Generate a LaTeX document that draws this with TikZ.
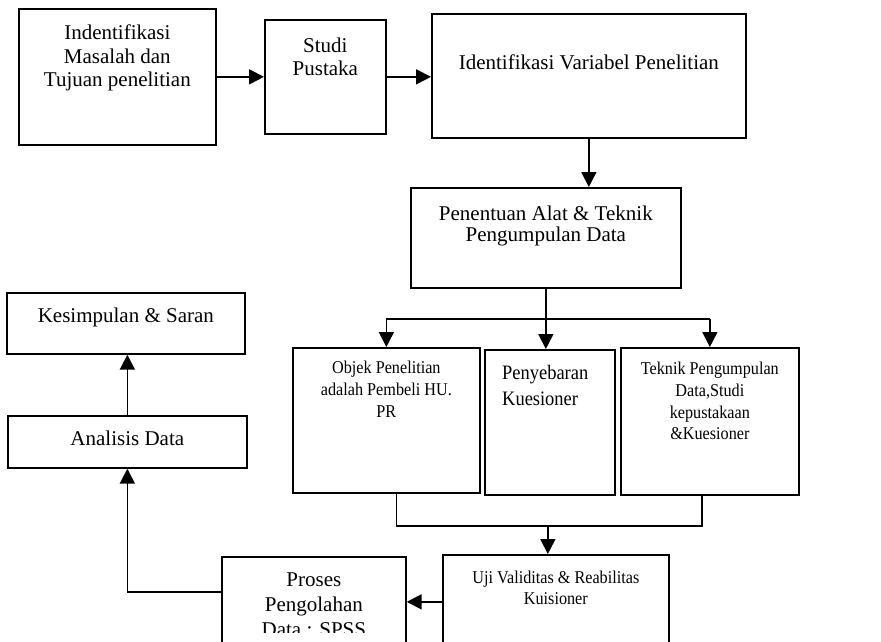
\documentclass[tikz,border=0pt]{standalone}
\usepackage{fontspec}
\setmainfont{Liberation Serif}
\newfontfamily\narrowserif[FakeStretch=0.9]{Liberation Serif}
\usetikzlibrary{arrows.meta}

\begin{document}
\begin{tikzpicture}[x=1pt,y=-1pt,
    box/.style={draw,line width=1.7pt,inner sep=0pt,anchor=north west},
    txt/.style={anchor=north,align=center,inner sep=0pt,font=\fontsize{21}{23.5}\selectfont},
    small/.style={font=\narrowserif\fontsize{18}{21.7}\selectfont},
    line/.style={line width=1.7pt},
    arr/.style={-{Triangle[length=15pt,width=15pt]},line width=1.7pt}]
    \useasboundingbox (0,0) rectangle (881,642);

    \node [box,minimum width=197pt,minimum height=136pt](A) at (18,8){};
    \node [box,minimum width=121pt,minimum height=114pt](B) at (264,19){};
    \node [box,minimum width=314pt,minimum height=124pt](C) at (431,13){};
    \node [box,minimum width=270pt,minimum height=100pt](D) at (410,187){};
    \node [box,minimum width=187pt,minimum height=145pt](E) at (292,347){};
    \node [box,minimum width=130pt,minimum height=145pt](F) at (484,349){};
    \node [box,minimum width=178pt,minimum height=147pt](G) at (620,347){};
    \node [box,minimum width=226pt,minimum height=94pt](H) at (442,554){};
    \node [box,minimum width=184pt,minimum height=92pt](I) at (221,556){};
    \node [box,minimum width=239pt,minimum height=52pt](J) at (7,415){};
    \node [box,minimum width=238pt,minimum height=61pt](K) at (6,292){};

    \node [txt](At) at ([yshift=-17pt]A.north){Indentifikasi\\Masalah dan\\Tujuan penelitian};
    \node [txt](Bt) at ([yshift=-18.5pt]B.north){Studi\\Pustaka};
    \node [txt](Ct) at ([yshift=-41.5pt]C.north){Identifikasi Variabel Penelitian};
    \node [txt,font=\fontsize{21}{21}\selectfont](Dt) at ([yshift=-18.5pt]D.north){Penentuan Alat \& Teknik\\Pengumpulan Data};
    \node [txt,small](Et) at ([yshift=-14pt]E.north){Objek Penelitian\\adalah Pembeli HU.\\PR};
    \node [txt,anchor=north west,align=left,font=\narrowserif\fontsize{20.5}{26}\selectfont](Ft) at ([xshift=18pt,yshift=-16pt]F.north west){Penyebaran\\Kuesioner};
    \node [txt,small](Gt) at ([yshift=-15pt]G.north){Teknik Pengumpulan\\Data,Studi\\kepustakaan\\\&Kuesioner};
    \node [txt,small,font=\narrowserif\fontsize{18}{21}\selectfont](Ht) at ([yshift=-17pt]H.north){Uji Validitas \& Reabilitas\\Kuisioner};
    \begin{scope}
    \clip (221,556) rectangle (405,632);
    \node [txt,font=\fontsize{21}{25}\selectfont](It) at ([yshift=-16.5pt]I.north){Proses\\Pengolahan\\Data : SPSS};
    \end{scope}
    \node [txt](Jt) at ([yshift=-15.5pt]J.north){Analisis Data};
    \node [txt](Kt) at ([yshift=-15.5pt]K.north){Kesimpulan \& Saran};

    \draw[arr] (A.east) -- (B.west);
    \draw[arr] (B.east) -- (B.east -| C.west);
    \draw[arr] (C.south) -- (C.south |- D.north);

    % split to the three boxes
    \draw[line] (D.south) -- ++(0,30) coordinate (s);
    \draw[line] (E.north |- s) -- (G.north |- s);
\foreach \n in {E,G}
    \draw[arr] (\n.north |- s) -- (\n.north);
    \draw[arr] (s) -- (s |- F.north);

    % merge
    \draw[line] ([xshift=10pt]E.south) -- ++(0,32) coordinate (m) -| ([xshift=-8pt]G.south);
    \draw[arr] ([xshift=-8pt]H.north |- m) -- ([xshift=-8pt]H.north);

    \draw[arr] (H.west) -- (H.west -| I.east);
    \draw[arr] ([yshift=11pt]I.west) -| (J.south);
    \draw[arr] (J.north) -- (J.north |- K.south);
\end{tikzpicture}
\end{document}
